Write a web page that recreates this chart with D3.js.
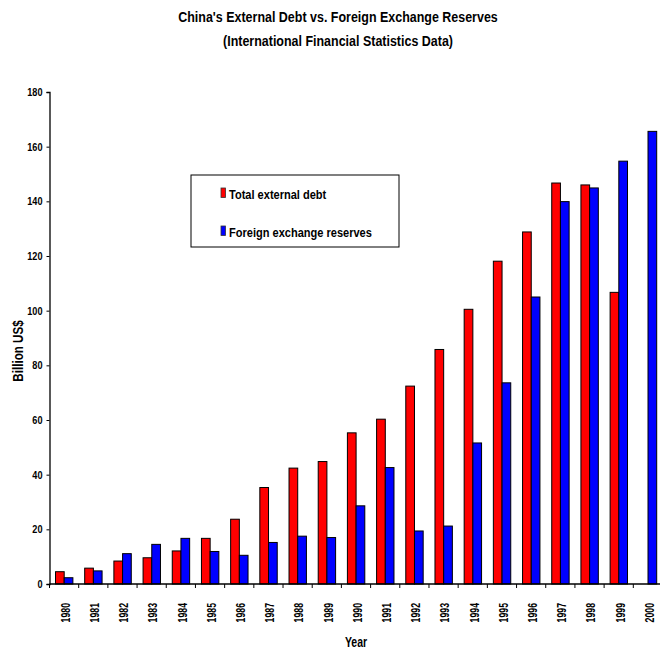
<!DOCTYPE html>
<html>
  <head>
    <script type="text/javascript" src="https://cdn.jsdelivr.net/npm/d3@7/dist/d3.min.js"></script>
    <style type="text/css">

html, body {
  margin: 0;
  background: #fff;
}

svg {
  display: block;
  font-family: "Liberation Sans", Arial, sans-serif;
  font-weight: bold;
}

    </style>
  </head>
  <body>
    <div id="chart"></div>
    <script type="text/javascript">

var years = ["1980", "1981", "1982", "1983", "1984", "1985", "1986", "1987", "1988", "1989", "1990",
             "1991", "1992", "1993", "1994", "1995", "1996", "1997", "1998", "1999", "2000"];
// billion US$
var externalDebt = [4.5, 5.8, 8.4, 9.6, 12.1, 16.7, 23.7, 35.3, 42.4, 44.8, 55.3,
                    60.3, 72.4, 85.8, 100.5, 118.1, 128.8, 146.7, 146.0, 106.7, null];
var fxReserves = [2.3, 4.8, 11.1, 14.5, 16.7, 11.9, 10.5, 15.2, 17.5, 17.0, 28.6,
                  42.6, 19.4, 21.2, 51.6, 73.6, 105.0, 139.9, 144.9, 154.7, 165.6];
var seriesNames = ["Total external debt", "Foreign exchange reserves"];
var seriesColors = ["#ff0000", "#0000ff"];
var yTicks = [0, 20, 40, 60, 80, 100, 120, 140, 160, 180];

var width = 660, height = 650;

var svg = d3.select("#chart").append("svg")
    .attr("width", width)
    .attr("height", height);

// no narrow font installed, so squeeze the text sideways
function narrow(x, y, sx, rot) {
  return "translate(" + x + "," + y + ")" + (rot ? " rotate(" + rot + ")" : "") + " scale(" + sx + ",1)";
}

var x = d3.scaleBand().domain(years).range([49.5, 662.5]);
var sub = d3.scaleBand().domain([0, 1]).range([6, x.bandwidth() - 5.8]);
var y = d3.scaleLinear().domain([0, 180]).range([584, 92]);

// title
svg.append("text")
    .attr("transform", narrow(338, 21.5, 0.86))
    .attr("text-anchor", "middle")
    .style("font-size", "14.5px")
    .text("China's External Debt vs. Foreign Exchange Reserves");
svg.append("text")
    .attr("transform", narrow(338, 45.5, 0.86))
    .attr("text-anchor", "middle")
    .style("font-size", "14.5px")
    .text("(International Financial Statistics Data)");

// bars
var rows = years.map(function(yr, i) {
  return {year: yr, values: [externalDebt[i], fxReserves[i]]};
});

var groups = svg.selectAll("g.year")
    .data(rows)
  .enter().append("g")
    .attr("class", "year")
    .attr("transform", function(d) { return "translate(" + x(d.year) + ",0)"; });

groups.selectAll("rect")
    .data(function(d) {
      return d.values.map(function(v, k) { return {k: k, v: v}; })
          .filter(function(e) { return e.v != null; });
    })
  .enter().append("rect")
    .attr("x", function(d) { return sub(d.k); })
    .attr("width", sub.bandwidth())
    .attr("y", function(d) { return y(d.v); })
    .attr("height", function(d) { return y(0) - y(d.v); })
    .style("fill", function(d) { return seriesColors[d.k]; })
    .style("stroke", "#000")
    .style("stroke-width", 1);

// y axis
var yAxis = svg.append("g")
    .attr("transform", "translate(49.5,0)")
    .call(d3.axisLeft(y).tickValues(yTicks).tickSize(3));
yAxis.select(".domain").attr("stroke-width", 1.3);
yAxis.selectAll("text")
    .attr("x", null)
    .attr("transform", narrow(-7, 0, 0.83))
    .style("font-size", "11px")
    .style("font-family", null);

// x axis: ticks on category boundaries
var xAxis = svg.append("g").attr("transform", "translate(0,584)");
xAxis.append("line")
    .attr("x1", 49.5).attr("x2", 662.5)
    .attr("stroke", "#000").attr("stroke-width", 1.3);
xAxis.selectAll("line.tick")
    .data(years)
  .enter().append("line")
    .attr("class", "tick")
    .attr("x1", function(d) { return x(d); })
    .attr("x2", function(d) { return x(d); })
    .attr("y1", 0).attr("y2", 4)
    .attr("stroke", "#000");
xAxis.selectAll("text")
    .data(years)
  .enter().append("text")
    .attr("transform", function(d) {
      return narrow(x(d) + x.bandwidth() / 2 + 5.8, 19, 0.7, -90);
    })
    .attr("text-anchor", "end")
    .style("font-size", "12.5px")
    .text(function(d) { return d; });

// axis titles
svg.append("text")
    .attr("transform", narrow(356, 647, 0.7))
    .attr("text-anchor", "middle")
    .style("font-size", "15px")
    .text("Year");
svg.append("text")
    .attr("transform", narrow(23, 351, 0.83, -90))
    .attr("text-anchor", "middle")
    .style("font-size", "14px")
    .text("Billion US$");

// legend
var legend = svg.append("g").attr("transform", "translate(191,175)");
legend.append("rect")
    .attr("width", 208).attr("height", 72)
    .style("fill", "#fff").style("stroke", "#000");
var items = legend.selectAll("g.item")
    .data(seriesNames)
  .enter().append("g")
    .attr("class", "item")
    .attr("transform", function(d, i) { return "translate(30," + (13 + i * 38) + ")"; });
items.append("rect")
    .attr("width", 4.5).attr("height", 9.5)
    .style("fill", function(d, i) { return seriesColors[i]; })
    .style("stroke", "#333").style("stroke-width", 0.8);
items.append("text")
    .attr("transform", narrow(8, 11, 0.85))
    .style("font-size", "13px")
    .text(function(d) { return d; });

    </script>
  </body>
</html>
